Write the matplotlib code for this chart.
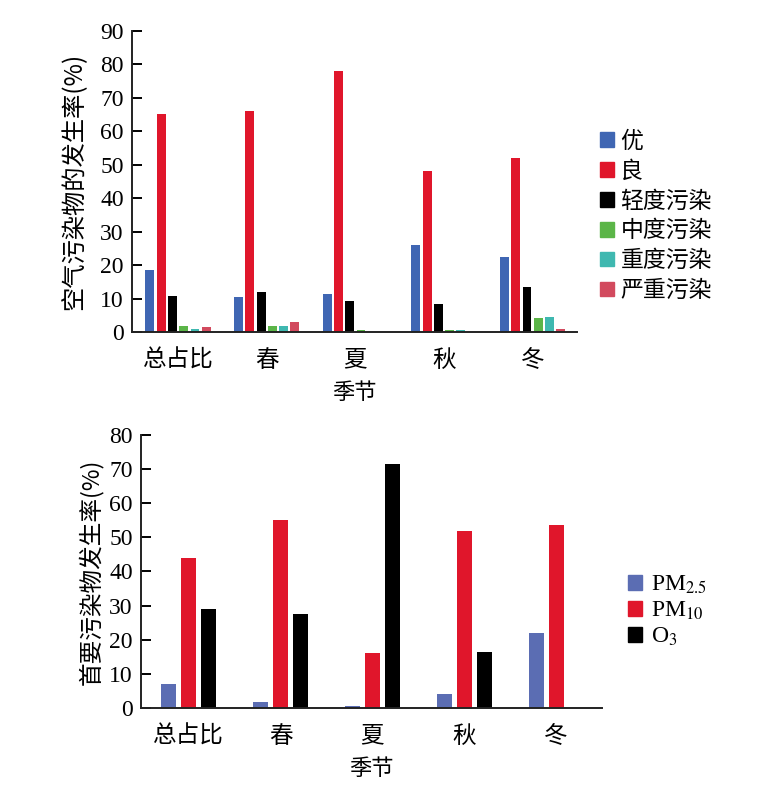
import matplotlib
matplotlib.use("Agg")
import matplotlib.pyplot as plt
from matplotlib.patches import Patch
import numpy as np

plt.rcParams['font.family'] = ['Liberation Serif', 'Noto Sans CJK SC', 'DejaVu Sans']
plt.rcParams['mathtext.fontset'] = 'stix'

CJK = ['Noto Sans CJK SC', 'DejaVu Sans']

# top chart: air quality grade rates by season
seasons = ['总占比', '春', '夏', '秋', '冬']
grades = ['优', '良', '轻度污染', '中度污染', '重度污染', '严重污染']
grade_vals = [
    [18.5, 10.5, 11.4, 25.9, 22.5],   # 优
    [65.0, 66.0, 78.0, 48.0, 52.0],   # 良
    [10.8, 12.0, 9.3, 8.5, 13.5],     # 轻度污染
    [1.9, 1.7, 0.6, 0.6, 4.3],        # 中度污染
    [0.9, 1.7, 0.0, 0.6, 4.5],        # 重度污染
    [1.4, 3.1, 0.0, 0.0, 0.9],        # 严重污染
]
grade_colors = ['#3f66b3', '#e0162b', '#000000', '#5bb548', '#3fb8b0', '#d24a5e']

# bottom chart: primary pollutant rates
pollutants = ['PM$_{2.5}$', 'PM$_{10}$', 'O$_3$']
poll_vals = [
    [7.1, 1.8, 0.7, 4.1, 22.0],     # PM2.5
    [44.0, 55.0, 16.0, 52.0, 53.5], # PM10
    [29.0, 27.5, 71.5, 16.3, 0.0],  # O3
]
poll_colors = ['#5b6db3', '#e0162b', '#000000']


def style_axes(ax, ymax, step):
    for s in ['top', 'right']:
        ax.spines[s].set_visible(False)
    for s in ['left', 'bottom']:
        ax.spines[s].set_linewidth(1.4)
        ax.spines[s].set_color('#222222')
    ax.set_ylim(0, ymax)
    ax.set_yticks(np.arange(0, ymax + 1, step))
    ax.tick_params(axis='y', direction='in', length=7, width=1.4, labelsize=17, pad=6)
    ax.tick_params(axis='x', length=0, pad=12)
    ax.set_xlim(-0.52, 4.5)
    ax.set_xticks(np.arange(len(seasons)))
    ax.set_xticklabels(seasons, fontfamily=CJK, fontsize=17)
    ax.set_xlabel('季节', fontfamily=CJK, fontsize=16, labelpad=7)


fig = plt.figure(figsize=(7.65, 7.89), dpi=100)

ax1 = fig.add_axes([0.1725, 0.5792, 0.5817, 0.3821])
x = np.arange(len(seasons))
pitch, width = 0.127, 0.10
for i, (vals, c) in enumerate(zip(grade_vals, grade_colors)):
    ax1.bar(x + (i - 2.5) * pitch, vals, width, color=c, label=grades[i])
style_axes(ax1, 90, 10)
ax1.set_ylabel('空气污染物的发生率(%)', fontfamily=CJK, fontsize=17.5, labelpad=9)
h1 = [Patch(color=c) for c in grade_colors]
ax1.legend(h1, grades, loc='center left', bbox_to_anchor=(1.005, 0.385), frameon=False,
           prop={'family': CJK, 'size': 16.5}, handlelength=0.6, handleheight=0.6,
           handletextpad=0.3, labelspacing=0.3)

ax2 = fig.add_axes([0.1843, 0.1027, 0.6026, 0.346])
pitch2, width2 = 0.218, 0.164
for i, (vals, c) in enumerate(zip(poll_vals, poll_colors)):
    ax2.bar(x + (i - 1) * pitch2, vals, width2, color=c, label=pollutants[i])
style_axes(ax2, 80, 10)
ax2.set_ylabel('首要污染物发生率(%)', fontfamily=CJK, fontsize=17, labelpad=4)
h2 = [Patch(color=c) for c in poll_colors]
ax2.legend(h2, pollutants, loc='center left', bbox_to_anchor=(1.01, 0.355), frameon=False,
           prop={'family': 'Liberation Serif', 'size': 17}, handlelength=0.6, handleheight=0.6,
           handletextpad=0.4, labelspacing=0.15)

fig.savefig('out.png', dpi=100)
